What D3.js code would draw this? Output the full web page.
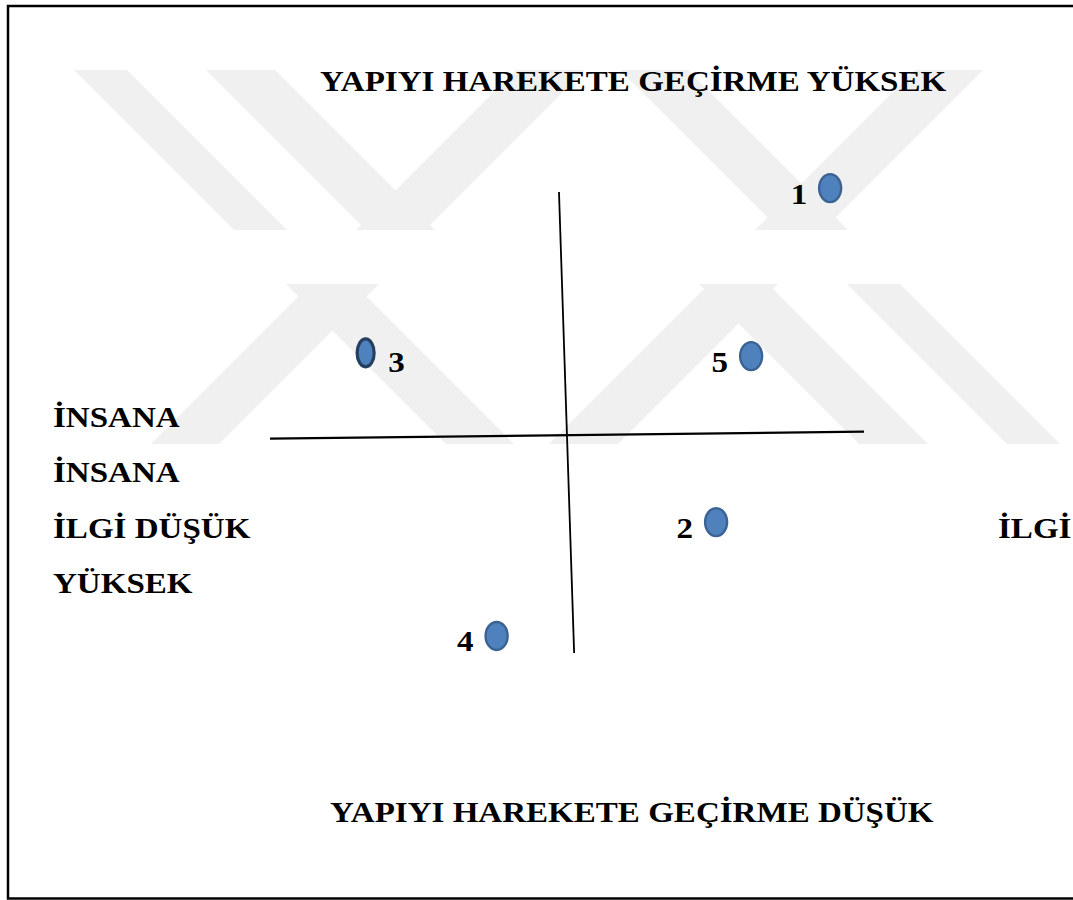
<!DOCTYPE html>
<html lang="tr">
<head>
<meta charset="UTF-8">
<title>Yapıyı harekete geçirme / insana ilgi</title>
<style>
  body { margin: 0; background: #fff; }
  svg { display: block; }
  text { font-family: "Liberation Serif", "Times New Roman", serif; font-weight: bold; fill: #000; }
</style>
</head>
<body>
<script src="https://cdn.jsdelivr.net/npm/d3@7"></script>
<script>
// --- data ---
var ids     = [1, 2, 3, 4, 5];
var xValues = [8.86, 5.02, -6.78, -2.37, 6.2];    // insana ilgi
var yValues = [10.17, -4.32, 3.02, -9.26, 2.88];  // yapıyı harekete geçirme
var labelSide = ['left', 'left', 'right', 'left', 'left'];

var topTitle    = 'YAPIYI HAREKETE GEÇİRME YÜKSEK';
var bottomTitle = 'YAPIYI HAREKETE GEÇİRME DÜŞÜK';
var leftLines   = ['İNSANA', 'İNSANA', 'İLGİ DÜŞÜK', 'YÜKSEK'];
var rightLabel  = 'İLGİ';

// hand drawn axis strokes, in data units
var axisX1 = [-0.27, -10], axisY1 = [10, -0.7];
var axisX2 = [0.24, 10],   axisY2 = [-10, -0.4];

// watermark stripes (top row); bottom row is the same turned round
var stripes = [
  [[74, 70], [127, 70], [287, 230], [234, 230]],
  [[206, 70], [275, 70], [435, 230], [366, 230]],
  [[516, 70], [585, 70], [425, 230], [356, 230]],
  [[620, 70], [688, 70], [848, 230], [780, 230]],
  [[915, 70], [983, 70], [823, 230], [755, 230]]
];

var W = 1073, H = 900, sx = 1.12, fs = 29.5;

var svg = d3.select('body').append('svg')
    .attr('width', W)
    .attr('height', H);

// watermark
var wm = svg.append('g').attr('fill', '#f0f0f0');
wm.selectAll('polygon.top')
    .data(stripes)
  .enter().append('polygon')
    .attr('points', function(d) { return d.map(function(p) { return p.join(','); }).join(' '); });
wm.selectAll('polygon.bot')
    .data(stripes)
  .enter().append('polygon')
    .attr('points', function(d) {
      return d.map(function(p) { return [1134 - p[0], 514 - p[1]].join(','); }).join(' ');
    });

// frame
svg.append('rect')
    .attr('x', 8).attr('y', 6)
    .attr('width', 1080).attr('height', 892.5)
    .attr('fill', 'none')
    .attr('stroke', '#000')
    .attr('stroke-width', 2.5);

var x = d3.scaleLinear().domain([-10, 10]).range([270, 864]);
var y = d3.scaleLinear().domain([-10, 10]).range([653, 192]);

// axes
svg.selectAll('line.axis')
    .data([0, 1])
  .enter().append('line')
    .attr('x1', function(i) { return x(axisX1[i]); })
    .attr('y1', function(i) { return y(axisY1[i]); })
    .attr('x2', function(i) { return x(axisX2[i]); })
    .attr('y2', function(i) { return y(axisY2[i]); })
    .attr('stroke', '#000')
    .attr('stroke-width', function(i) { return i ? 2.2 : 1.8; });

function label(txt, px, py, anchor) {
  svg.append('text')
      .attr('transform', 'translate(' + px + ',' + py + ') scale(' + sx + ',1)')
      .attr('text-anchor', anchor || 'start')
      .style('font-size', fs + 'px')
      .text(txt);
}

label(topTitle, 320, 91);
label(bottomTitle, 330, 822);
leftLines.forEach(function(t, i) { label(t, 53, 427 + i * 55.3); });
label(rightLabel, 998, 538);

// points
var pts = ids.map(function(id, i) {
  return { id: id, x: xValues[i], y: yValues[i], side: labelSide[i] };
});

svg.selectAll('ellipse.pt')
    .data(pts)
  .enter().append('ellipse')
    .attr('cx', function(d) { return x(d.x); })
    .attr('cy', function(d) { return y(d.y); })
    .attr('rx', function(d) { return d.id === 3 ? 8.5 : 11; })
    .attr('ry', 14)
    .attr('fill', '#4f81bd')
    .attr('stroke', function(d) { return d.id === 3 ? '#243f60' : '#3a6394'; })
    .attr('stroke-width', function(d) { return d.id === 3 ? 3.2 : 2.4; });

pts.forEach(function(d) {
  var left = d.side === 'left';
  label(String(d.id), x(d.x) + (left ? -23 : 22.5), y(d.y) + (left ? 15.5 : 19), left ? 'end' : 'start');
});
</script>
</body>
</html>
